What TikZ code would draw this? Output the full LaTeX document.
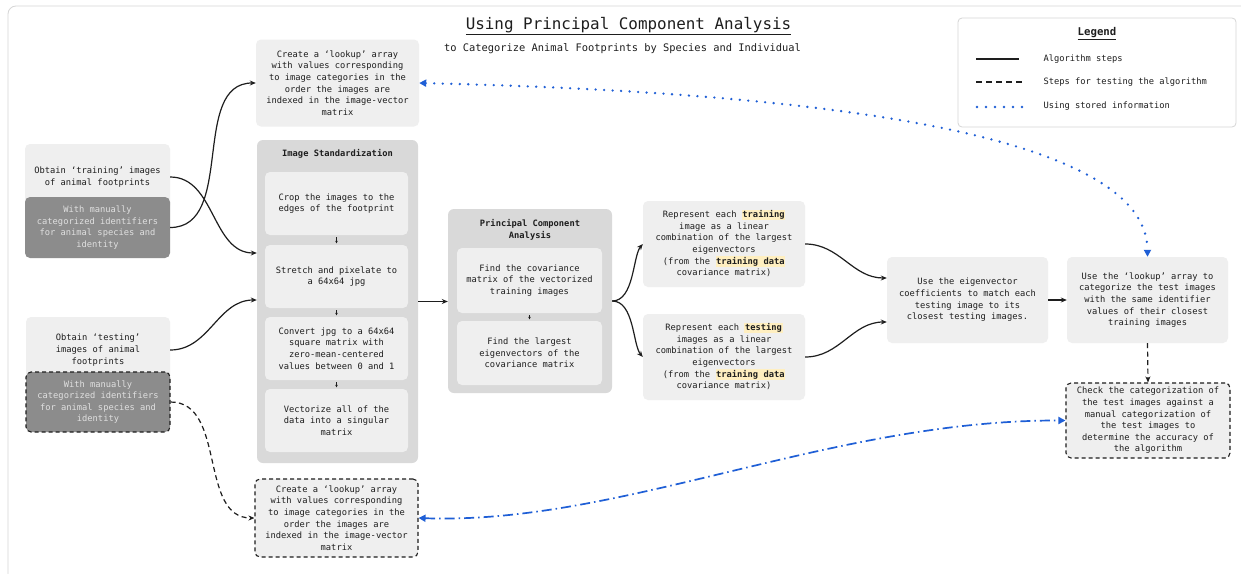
\documentclass[tikz,border=0pt]{standalone}
\usepackage{fontspec}
\setmonofont{DejaVu Sans Mono}
\usetikzlibrary{arrows.meta,calc}
\definecolor{boxfill}{HTML}{EFEFEF}
\definecolor{grpfill}{HTML}{D9D9D9}
\definecolor{darkfill}{HTML}{8C8C8C}
\definecolor{txt}{HTML}{1E1E1E}
\definecolor{bluec}{HTML}{1F5FD6}
\definecolor{hlc}{HTML}{FFEFC0}
\definecolor{framec}{HTML}{D6D6D6}
\newcommand\mytt{\ttfamily\fontsize{8.75}{11.6}\selectfont}
\newcommand\hlw[1]{\smash{\setlength{\fboxsep}{0.6pt}\colorbox{hlc}{\textbf{#1}}}}
\begin{document}
\begin{tikzpicture}[x=1pt,y=-1pt,
  box/.style={fill=boxfill, rounded corners=5pt, inner sep=0pt, align=center, font=\mytt, text=txt},
  grp/.style={fill=grpfill, rounded corners=6pt, inner sep=0pt},
  darkbox/.style={fill=darkfill, rounded corners=5pt, inner sep=0pt, align=center, font=\mytt, text=white!88!black},
  dbox/.style={draw=txt, line width=1.1pt, dash pattern=on 4pt off 3pt},
  gtitle/.style={font=\mytt\bfseries, text=txt, align=center},
  conn/.style={line width=1.2pt, draw=txt, -{Stealth[length=6pt,width=5pt]}},
  dconn/.style={conn, dash pattern=on 5pt off 3.5pt},
  tinyarr/.style={line width=0.5pt, draw=txt, shorten <=2pt, shorten >=1.5pt, -{Stealth[length=2.5pt,width=2.5pt]}},
  bdot/.style={draw=bluec, line width=2.6pt, dash pattern=on 0pt off 8.5pt, line cap=round, {Triangle[length=7pt,width=7pt]}-{Triangle[length=7pt,width=7pt]}},
  bdash/.style={draw=bluec, line width=1.7pt, dash pattern=on 10pt off 4pt on 1.5pt off 4pt, {Triangle[length=7pt,width=7pt]}-{Triangle[length=7pt,width=7pt]}}
]
\useasboundingbox (0,0) rectangle (1241,573);
\fill[white] (0,0) rectangle (1241,573);
\draw[framec, line width=0.8pt, rounded corners=8pt] (8,6) rectangle (1300,640);

% title
\node[font=\ttfamily\fontsize{15.9}{18}\selectfont, text=txt] (title) at (628.5,26) {\underline{Using Principal Component Analysis}};
\node[font=\ttfamily\fontsize{10.4}{12}\selectfont, text=txt] (subtitle) at (622.5,49) {to Categorize Animal Footprints by Species and Individual};

% legend
\node[draw=framec, fill=white, rounded corners=4pt, line width=0.8pt, minimum width=278pt, minimum height=109pt, inner sep=0pt] (legend) at (1097,72.5) {};
\node[font=\ttfamily\fontsize{10.7}{12}\selectfont\bfseries, text=txt] (legtitle) at (1097,34) {\underline{Legend}};
\coordinate (l1a) at (976,59); \coordinate (l1b) at (1019,59);
\coordinate (l2a) at (976,82); \coordinate (l2b) at (1022,82);
\coordinate (l3a) at (977,107); \coordinate (l3b) at (1022,107);
\draw[line width=1.3pt, txt] (l1a) -- (l1b);
\draw[line width=1.3pt, txt, dash pattern=on 6pt off 4pt] (l2a) -- (l2b);
\draw[line width=2.6pt, bluec, dash pattern=on 0pt off 9pt, line cap=round] (l3a) -- (l3b);
\node[anchor=west, font=\mytt, text=txt] (leg1) at (1040,59) {Algorithm steps};
\node[anchor=west, font=\mytt, text=txt] (leg2) at (1040,82) {Steps for testing the algorithm};
\node[anchor=west, font=\mytt, text=txt] (leg3) at (1040,106) {Using stored information};

% left column
\node[box, minimum width=145pt, minimum height=66pt] (trainLight) at (97.5,177) {Obtain ‘training’ images\\of animal footprints};
\node[darkbox, minimum width=145pt, minimum height=61pt] (trainDark) at (97.5,227.5) {With manually\\categorized identifiers\\for animal species and\\identity};
\node[box, minimum width=144pt, minimum height=66pt] (testLight) at (98,350) {Obtain ‘testing’\\images of animal\\footprints};
\node[darkbox, dbox, minimum width=144pt, minimum height=60pt] (testDark) at (98,402) {With manually\\categorized identifiers\\for animal species and\\identity};

% lookup boxes
\node[box, minimum width=163pt, minimum height=87pt] (lookupTop) at (337.5,83) {Create a ‘lookup’ array\\with values corresponding\\to image categories in the\\order the images are\\indexed in the image-vector\\matrix};
\node[box, dbox, minimum width=163pt, minimum height=78pt] (lookupBot) at (336.5,518) {Create a ‘lookup’ array\\with values corresponding\\to image categories in the\\order the images are\\indexed in the image-vector\\matrix};

% image standardization
\node[grp, minimum width=161pt, minimum height=323pt] (imgstd) at (337.5,301.5) {};
\node[gtitle] (imgstdT) at (337.5,154) {Image Standardization};
\node[box, minimum width=143pt, minimum height=63pt] (b1) at (336.5,203.5) {Crop the images to the\\edges of the footprint};
\node[box, minimum width=143pt, minimum height=63pt] (b2) at (336.5,276.5) {Stretch and pixelate to\\a 64x64 jpg};
\node[box, minimum width=143pt, minimum height=63pt] (b3) at (336.5,348.5) {Convert jpg to a 64x64\\square matrix with\\zero-mean-centered\\values between 0 and 1};
\node[box, minimum width=143pt, minimum height=63pt] (b4) at (336.5,420.5) {Vectorize all of the\\data into a singular\\matrix};
\draw[tinyarr] (b1.south) -- (b2.north);
\draw[tinyarr] (b2.south) -- (b3.north);
\draw[tinyarr] (b3.south) -- (b4.north);

% PCA
\node[grp, minimum width=164pt, minimum height=184pt] (pca) at (530,301) {};
\node[gtitle] (pcaT) at (530,230) {Principal Component\\Analysis};
\node[box, minimum width=145pt, minimum height=65pt] (p1) at (529.5,280.5) {Find the covariance\\matrix of the vectorized\\training images};
\node[box, minimum width=145pt, minimum height=64pt] (p2) at (529.5,353) {Find the largest\\eigenvectors of the\\covariance matrix};
\draw[tinyarr] (p1.south) -- (p2.north);

% represent
\node[box, minimum width=162pt, minimum height=86pt] (repTrain) at (724,244) {Represent each \hlw{training}\\image as a linear\\combination of the largest\\eigenvectors\\(from the \hlw{training data}\\covariance matrix)};
\node[box, minimum width=162pt, minimum height=86pt] (repTest) at (724,357) {Represent each \hlw{testing}\\images as a linear\\combination of the largest\\eigenvectors\\(from the \hlw{training data}\\covariance matrix)};

% right
\node[box, minimum width=161pt, minimum height=86pt] (eig) at (967.5,300) {Use the eigenvector\\coefficients to match each\\testing image to its\\closest testing images.};
\node[box, minimum width=161pt, minimum height=86pt] (useLookup) at (1147.5,300) {Use the ‘lookup’ array to\\categorize the test images\\with the same identifier\\values of their closest\\training images};
\node[box, dbox, minimum width=164pt, minimum height=75pt] (check) at (1148,420.5) {Check the categorization of\\the test images against a\\manual categorization of\\the test images to\\determine the accuracy of\\the algorithm};

% connectors
\draw[conn] (trainLight.east) to[out=0,in=180] ($(imgstd.west)+(0,-48.5)$);
\draw[conn] (trainDark.east) to[out=0,in=180] (lookupTop.west);
\draw[conn] (testLight.east) to[out=0,in=180] ($(imgstd.west)+(0,-1.5)$);
\draw[dconn] (testDark.east) to[out=0,in=180] (lookupBot.west);
\draw[conn] (imgstd.east) -- (imgstd.east -| pca.west);
\draw[conn] (pca.east) .. controls +(22,0) and +(-10,12) .. (repTrain.west);
\draw[conn] (pca.east) .. controls +(22,0) and +(-10,-12) .. (repTest.west);
\draw[conn] (repTrain.east) to[out=0,in=180] ($(eig.west)+(0,-22)$);
\draw[conn] (repTest.east) to[out=0,in=180] ($(eig.west)+(0,22)$);
\draw[conn] (eig.east) -- (useLookup.west);
\draw[dconn] (useLookup.south) -- (check.north);
\draw[bdot] (lookupTop.east) .. controls (800,92) and (1147,130) .. (useLookup.north);
\draw[bdash] (lookupBot.east) .. controls (620,525) and (830,420) .. (check.west);
\end{tikzpicture}
\end{document}
